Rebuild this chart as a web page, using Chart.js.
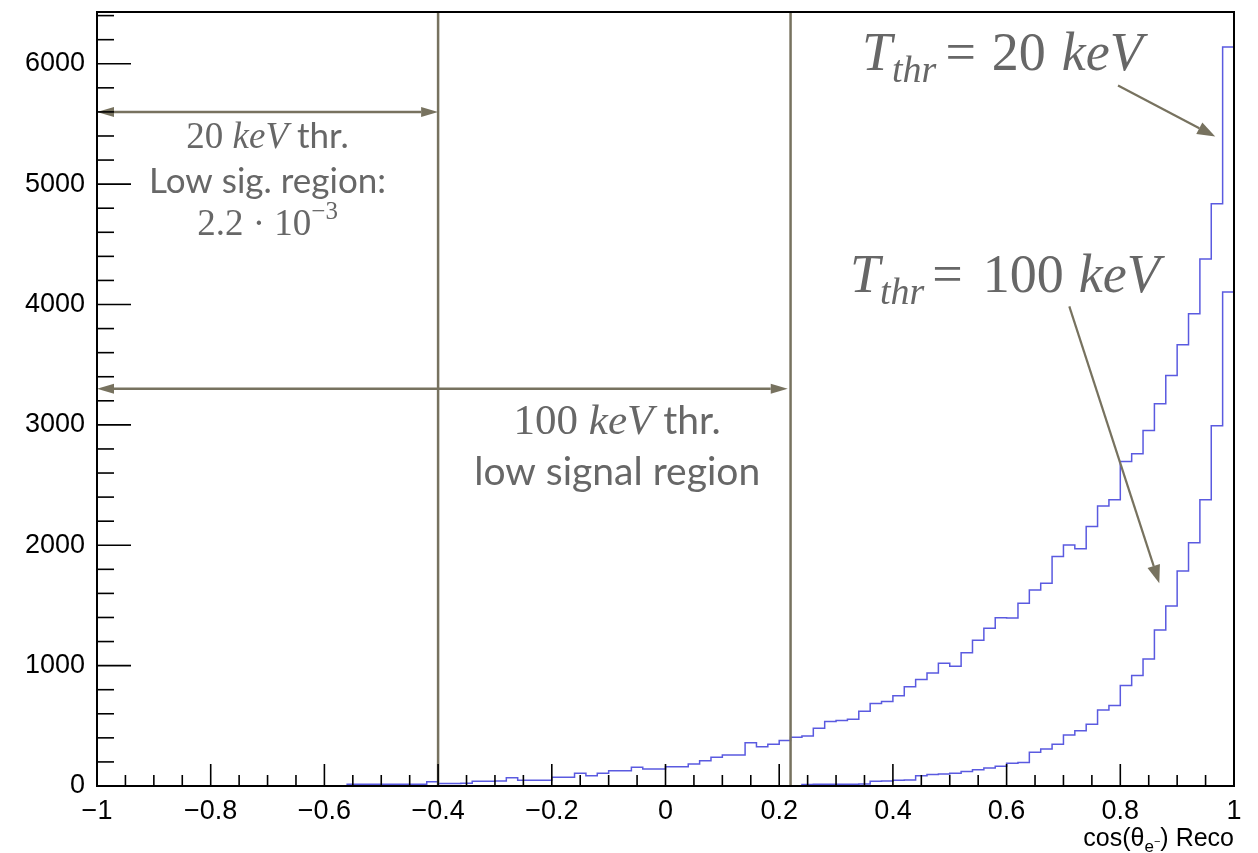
<!DOCTYPE html>
<html><head><meta charset="utf-8">
<script src="https://cdn.jsdelivr.net/npm/chart.js@4/dist/chart.umd.min.js"></script>
<style>html,body{margin:0;padding:0;background:#fff;}#wrap{width:1258px;height:853px;}</style>
</head><body><div id="wrap"><canvas id="c" width="1258" height="853"></canvas></div>
<script>
// ---- data: 100 bins of width 0.02 on cos(theta_e) in [-1, 1]
const binLowEdges = Array.from({length: 100}, (_, i) => +(-1 + 0.02 * i).toFixed(2));
const xMax = 1;
const counts20keV = [
  0,0,0,0,0,0,0,0,0,0, 0,0,0,0,0,0,0,0,0,0, 0,0,
  15,15,15,15,15,15,15,
  35,
  20,20,22,
  40,40,
  42,
  69,
  47,47,47,
  72,72,
  105,86,105,
  127,127,
  155,
  141,141,
  160,160,
  183,210,238,
  258,258,
  360,327,346,377,
  405,415,
  480,
  535,545,554,
  620,685,702,750,825,885,938,1020,995,1108,1210,1310,
  1397,1395,
  1518,1629,1685,1906,2003,1970,2156,2327,2377,2696,2760,2954,3175,3411,3666,3924,4378,4838,6140
];
const counts100keV = [
  0,0,0,0,0,0,0,0,0,0, 0,0,0,0,0,0,0,0,0,0,
  0,0,0,0,0,0,0,0,0,0, 0,0,0,0,0,0,0,0,0,0,
  0,0,0,0,0,0,0,0,0,0, 0,0,0,0,0,0,0,0,0,0,
  0,0,
  12,14,14,15,15,16,
  40,42,48,50,
  85,95,100,105,
  120,135,150,165,188,195,
  280,308,346,424,460,513,632,668,834,917,1056,1297,1496,1787,2020,2377,2993,4104
];
const xTickValues = [-1, -0.8, -0.6, -0.4, -0.2, 0, 0.2, 0.4, 0.6, 0.8, 1];
const yTickValues = [0, 1000, 2000, 3000, 4000, 5000, 6000];
const yMax = 6430;

function toSteps(vals) {
  const pts = binLowEdges.map((e, i) => ({x: e, y: vals[i]}));
  pts.push({x: xMax, y: vals[vals.length - 1]});
  return pts;
}

// ---- annotations (data coordinates)
const ANN_COLOR = '#77725f';
const TEXT_COLOR = '#676767';
const markerLines = [-0.4, 0.22];
const rangeArrows = [{y: 5600, x1: -1, x2: -0.4}, {y: 3300, x1: -1, x2: 0.215}];
const pointerArrows = [
  {x1: 0.796, y1: 5819, x2: 0.967, y2: 5395},
  {x1: 0.7103, y1: 3984, x2: 0.8686, y2: 1685}
];

const SERIF = '"Liberation Serif", "DejaVu Serif", serif';
const SANS = 'Lato, "Open Sans", sans-serif';
const textBlocks = [
  {x: -0.70, y: 5303, align: 'center', segs: [
    {t: '20 ', f: `37px ${SERIF}`}, {t: 'keV', f: `italic 37px ${SERIF}`}, {t: ' thr.', f: `35px ${SANS}`}]},
  {x: -0.70, y: 4929, align: 'center', segs: [{t: 'Low sig. region:', f: `35px ${SANS}`}]},
  {x: -0.70, y: 4580, align: 'center', segs: [
    {t: '2.2 · 10', f: `37px ${SERIF}`}, {t: '−3', f: `25px ${SERIF}`, dy: -16}]},
  {x: -0.085, y: 2926, align: 'center', segs: [
    {t: '100 ', f: `43px ${SERIF}`}, {t: 'keV', f: `italic 43px ${SERIF}`}, {t: ' thr.', f: `39px ${SANS}`}]},
  {x: -0.085, y: 2502, align: 'center', segs: [{t: 'low signal region', f: `39px ${SANS}`}]},
  {x: 0.3457, y: 5952, align: 'left', segs: [
    {t: 'T', f: `italic 54px ${SERIF}`}, {t: 'thr', f: `italic 38px ${SERIF}`, dy: 12, gap: 9},
    {t: '=', f: `54px ${SERIF}`, gap: 16}, {t: '20', f: `54px ${SERIF}`, gap: 16},
    {t: 'keV', f: `italic 54px ${SERIF}`}]},
  {x: 0.3245, y: 4106, align: 'left', segs: [
    {t: 'T', f: `italic 54px ${SERIF}`}, {t: 'thr', f: `italic 38px ${SERIF}`, dy: 12, gap: 8},
    {t: '=', f: `54px ${SERIF}`, gap: 20}, {t: '100', f: `54px ${SERIF}`, gap: 15},
    {t: 'keV', f: `italic 54px ${SERIF}`}]}
];

function rich(ctx, segs, x, y, align) {
  let w = 0;
  segs.forEach(s => { ctx.font = s.f; s.w = ctx.measureText(s.t).width; w += s.w + (s.gap || 0); });
  let cx = align === 'center' ? x - w / 2 : (align === 'right' ? x - w : x);
  ctx.textAlign = 'left'; ctx.textBaseline = 'alphabetic';
  segs.forEach(s => { ctx.font = s.f; ctx.fillText(s.t, cx, y + (s.dy || 0)); cx += s.w + (s.gap || 0); });
}
function arrowHead(ctx, x1, y1, x2, y2, len, hw) {
  const a = Math.atan2(y2 - y1, x2 - x1), c = Math.cos(a), s = Math.sin(a);
  ctx.beginPath();
  ctx.moveTo(x2, y2);
  ctx.lineTo(x2 - len * c + hw * s, y2 - len * s - hw * c);
  ctx.lineTo(x2 - len * c - hw * s, y2 - len * s + hw * c);
  ctx.closePath(); ctx.fill();
}

const decorPlugin = {
  id: 'decor',
  afterDatasetsDraw(chart) {
    const {ctx, chartArea: ca, scales: {x, y}} = chart;
    ctx.save();
    ctx.strokeStyle = ANN_COLOR; ctx.fillStyle = ANN_COLOR; ctx.lineWidth = 2.5;
    markerLines.forEach(v => {
      const px = x.getPixelForValue(v);
      ctx.beginPath(); ctx.moveTo(px, ca.top); ctx.lineTo(px, ca.bottom); ctx.stroke();
    });
    const L = 17, HW = 5;
    rangeArrows.forEach(a => {
      const py = y.getPixelForValue(a.y), p1 = x.getPixelForValue(a.x1), p2 = x.getPixelForValue(a.x2);
      ctx.beginPath(); ctx.moveTo(p1 + L, py); ctx.lineTo(p2 - L, py); ctx.stroke();
      arrowHead(ctx, p2, py, p1, py, L, HW);
      arrowHead(ctx, p1, py, p2, py, L, HW);
    });
    pointerArrows.forEach(a => {
      const x1 = x.getPixelForValue(a.x1), y1 = y.getPixelForValue(a.y1);
      const x2 = x.getPixelForValue(a.x2), y2 = y.getPixelForValue(a.y2);
      const d = Math.hypot(x2 - x1, y2 - y1), L2 = 18;
      ctx.lineWidth = 2.2;
      ctx.beginPath(); ctx.moveTo(x1, y1);
      ctx.lineTo(x2 - (x2 - x1) * L2 / d, y2 - (y2 - y1) * L2 / d); ctx.stroke();
      arrowHead(ctx, x1, y1, x2, y2, L2, 6.5);
    });
    ctx.fillStyle = TEXT_COLOR;
    textBlocks.forEach(b => rich(ctx, b.segs, x.getPixelForValue(b.x), y.getPixelForValue(b.y), b.align));
    ctx.restore();
  },
  afterDraw(chart) {
    const {ctx, chartArea: ca, scales: {x, y}} = chart;
    ctx.save();
    ctx.strokeStyle = '#000'; ctx.lineWidth = 2;
    ctx.strokeRect(ca.left, ca.top, ca.right - ca.left, ca.bottom - ca.top);
    ctx.lineWidth = 1.6;
    // x ticks (inside): major every 0.2, minor every 0.05
    for (let k = 0; k <= 40; k++) {
      const v = -1 + k * 0.05, px = x.getPixelForValue(v);
      const len = (k % 4 === 0) ? 22 : 11;
      ctx.beginPath(); ctx.moveTo(px, ca.bottom); ctx.lineTo(px, ca.bottom - len); ctx.stroke();
    }
    // y ticks (inside): major every 1000, minor every 200
    for (let v = 0; v <= yMax; v += 200) {
      const py = y.getPixelForValue(v);
      const len = (v % 1000 === 0) ? 34 : 17;
      ctx.beginPath(); ctx.moveTo(ca.left, py); ctx.lineTo(ca.left + len, py); ctx.stroke();
    }
    // axis title
    ctx.fillStyle = '#000';
    rich(ctx, [
      {t: 'cos(θ', f: '25px "Liberation Sans", Arial, sans-serif'},
      {t: 'e', f: '17px "Liberation Sans", Arial, sans-serif', dy: 6},
      {t: '−', f: '11px "Liberation Sans", Arial, sans-serif', dy: -1},
      {t: ') Reco', f: '25px "Liberation Sans", Arial, sans-serif'}
    ], ca.right, 846, 'right');
    ctx.restore();
  }
};

const HIST_COLOR = '#5a5ae0';
const tickFont = {family: '"Liberation Sans", Arial, sans-serif', size: 27};
function fmt(v) {
  const r = Math.round(v * 10) / 10;
  return (r < 0 ? '−' : '') + String(Math.abs(r));
}

new Chart(document.getElementById('c').getContext('2d'), {
  type: 'line',
  data: {datasets: [
    {label: 'T_thr = 20 keV', data: toSteps(counts20keV), stepped: true, borderColor: HIST_COLOR,
     borderWidth: 1.5, pointRadius: 0, fill: false, tension: 0},
    {label: 'T_thr = 100 keV', data: toSteps(counts100keV), stepped: true, borderColor: HIST_COLOR,
     borderWidth: 1.5, pointRadius: 0, fill: false, tension: 0}
  ]},
  options: {
    responsive: false, animation: false, devicePixelRatio: 1,
    layout: {padding: {top: 12, right: 24, left: 0, bottom: 0}},
    plugins: {legend: {display: false}, tooltip: {enabled: false}},
    scales: {
      x: {type: 'linear', min: -1, max: 1, grid: {display: false}, border: {display: false},
          ticks: {maxRotation: 0, autoSkip: false, padding: 1, color: '#000',
                  font: tickFont, callback: v => fmt(v)},
          afterBuildTicks: s => { s.ticks = xTickValues.map(v => ({value: v})); },
          afterFit: s => { s.height = 67; s.paddingLeft = 0; s.paddingRight = 0; }},
      y: {min: 0, max: yMax, grid: {display: false}, border: {display: false},
          ticks: {padding: 4, color: '#000', font: tickFont, callback: v => String(v)},
          afterBuildTicks: s => { s.ticks = yTickValues.map(v => ({value: v})); },
          afterFit: s => { s.width = 97; s.paddingTop = 0; s.paddingBottom = 0; }}
    }
  },
  plugins: [decorPlugin]
});
</script></body></html>
